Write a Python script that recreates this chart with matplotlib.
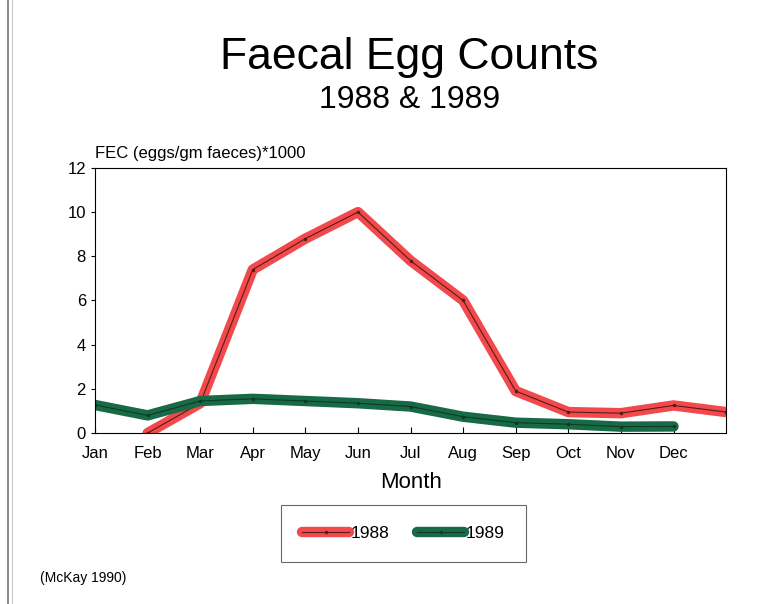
import numpy as np
import matplotlib.pyplot as plt
from matplotlib.lines import Line2D
from matplotlib.legend_handler import HandlerTuple

plt.rcParams['font.family'] = ['Liberation Sans', 'DejaVu Sans']

months = ['Jan', 'Feb', 'Mar', 'Apr', 'May', 'Jun', 'Jul', 'Aug', 'Sep', 'Oct', 'Nov', 'Dec']

# 1988 series starts at Feb and runs one step past Dec
x_1988 = [1, 2, 3, 4, 5, 6, 7, 8, 9, 10, 11, 12]
fec_1988 = [0.0, 1.35, 7.4, 8.8, 10.0, 7.8, 6.0, 1.9, 0.95, 0.9, 1.25, 0.95]

x_1989 = [0, 1, 2, 3, 4, 5, 6, 7, 8, 9, 10, 11]
fec_1989 = [1.27, 0.8, 1.45, 1.55, 1.45, 1.35, 1.2, 0.74, 0.47, 0.4, 0.29, 0.3]

red = '#f24a4c'
green = '#186a47'

fig = plt.figure(figsize=(7.7, 6.04), dpi=100)
ax = fig.add_axes([0.1234, 0.283, 0.8196, 0.439])

h1a, = ax.plot(x_1988, fec_1988, color=red, lw=7.5, solid_capstyle='round', solid_joinstyle='round')
h1b, = ax.plot(x_1988, fec_1988, color='#5a1a1a', lw=0.8, marker='.', ms=3)
h2a, = ax.plot(x_1989, fec_1989, color=green, lw=7.5, solid_capstyle='round', solid_joinstyle='round')
h2b, = ax.plot(x_1989, fec_1989, color='#0d3a26', lw=0.8, marker='.', ms=3)

ax.set_xlim(0, 12)
ax.set_ylim(0, 12)
ax.set_xticks(range(12))
ax.set_xticklabels(months, fontsize=12)
ax.set_yticks(range(0, 13, 2))
ax.tick_params(axis='y', labelsize=12, direction='out', length=3)
ax.tick_params(axis='x', direction='in', length=4, pad=9)
for s in ax.spines.values():
    s.set_linewidth(0.8)
ax.set_xlabel('Month', fontsize=16, labelpad=8)

fig.text(0.1234, 0.733, 'FEC (eggs/gm faeces)*1000', fontsize=12, ha='left', va='bottom')
fig.text(0.532, 0.905, 'Faecal Egg Counts', fontsize=32, ha='center', va='center')
fig.text(0.532, 0.834, '1988 & 1989', fontsize=23, ha='center', va='center')
fig.text(0.052, 0.043, '(McKay 1990)', fontsize=10, ha='left', va='center')

leg = fig.legend([(h1a, h1b), (h2a, h2b)], ['1988', '1989'],
                 handler_map={tuple: HandlerTuple(ndivide=1)},
                 loc='center', bbox_to_anchor=(0.524, 0.117), ncol=2,
                 fontsize=12.5, frameon=True, fancybox=False, handlelength=2.7,
                 handletextpad=0.1, columnspacing=1.6, borderpad=1.2, borderaxespad=0)
leg.get_frame().set_edgecolor('#444444')
leg.get_frame().set_linewidth(0.8)

# page border on the left
fig.add_artist(Line2D([0.011, 0.011], [0.0, 1.0], color='#777777', lw=1.2))
fig.add_artist(Line2D([0.015, 0.015], [0.0, 1.0], color='#bbbbbb', lw=0.6))

fig.savefig('out.png', dpi=100)
